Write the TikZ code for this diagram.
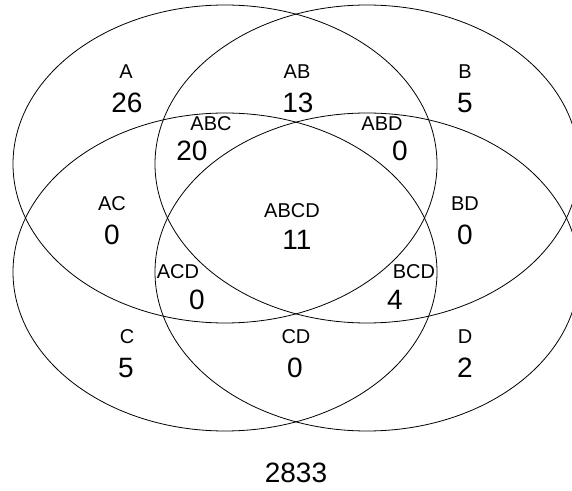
\documentclass[tikz,border=0pt]{standalone}
\usepackage{fontspec}
\setmainfont{Liberation Sans}

\begin{document}
\begin{tikzpicture}[x=0.75pt,y=0.75pt,yscale=-1,xscale=1,
  setline/.style={line width=0.6pt, color=black},
  setname/.style={font=\fontsize{15}{17}\selectfont, inner sep=0pt},
  setcount/.style={font=\fontsize{21}{25}\selectfont, inner sep=0pt}]
\useasboundingbox (0,0) rectangle (572,491);
\clip (0,0) rectangle (572,491);

%Ellipse A
\draw [setline] (225,164) ellipse [x radius=212, y radius=159];
%Ellipse B
\draw [setline] (367,164) ellipse [x radius=212, y radius=159];
%Ellipse C
\draw [setline] (225,272) ellipse [x radius=212, y radius=159];
%Ellipse D
\draw [setline] (367,272) ellipse [x radius=212, y radius=159];

% Text Node
\draw (126,72) node (nameA) [setname] {A};
\draw (127,103) node (countA) [setcount] {26};
% Text Node
\draw (297,72) node (nameAB) [setname] {AB};
\draw (298,103) node (countAB) [setcount] {13};
% Text Node
\draw (465,72) node (nameB) [setname] {B};
\draw (465,103) node (countB) [setcount] {5};
% Text Node
\draw (211,124) node (nameABC) [setname] {ABC};
\draw (192,151) node (countABC) [setcount] {20};
% Text Node
\draw (382,124) node (nameABD) [setname] {ABD};
\draw (400,151) node (countABD) [setcount] {0};
% Text Node
\draw (112,204) node (nameAC) [setname] {AC};
\draw (112,235) node (countAC) [setcount] {0};
% Text Node
\draw (292,211) node (nameABCD) [setname] {ABCD};
\draw (297,240) node (countABCD) [setcount] {11};
% Text Node
\draw (465,204) node (nameBD) [setname] {BD};
\draw (465,235) node (countBD) [setcount] {0};
% Text Node
\draw (178,272) node (nameACD) [setname] {ACD};
\draw (197,300) node (countACD) [setcount] {0};
% Text Node
\draw (414,272) node (nameBCD) [setname] {BCD};
\draw (395,300) node (countBCD) [setcount] {4};
% Text Node
\draw (127,337) node (nameC) [setname] {C};
\draw (126,368) node (countC) [setcount] {5};
% Text Node
\draw (296,337) node (nameCD) [setname] {CD};
\draw (295,368) node (countCD) [setcount] {0};
% Text Node
\draw (465,337) node (nameD) [setname] {D};
\draw (465,368) node (countD) [setcount] {2};
% Text Node
\draw (296,473) node (outside) [setcount] {2833};

\end{tikzpicture}
\end{document}
